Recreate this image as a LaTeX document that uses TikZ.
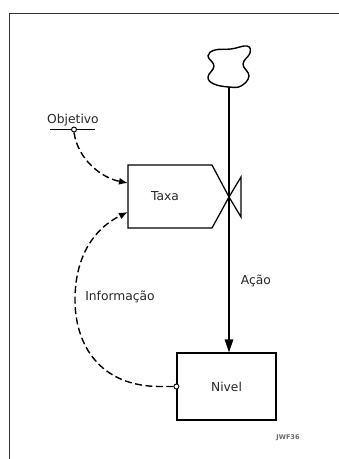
\documentclass[tikz,border=0pt]{standalone}
\usepackage{fontspec}
\newfontfamily\lblfont{DejaVu Sans}
\usetikzlibrary{arrows.meta}
\begin{document}
\begin{tikzpicture}[x=1pt,y=-1pt,
  lbl/.style={font=\lblfont\fontsize{12.3}{14}\selectfont, text=black!85, inner sep=0pt},
  solidline/.style={line width=1.25pt, black},
  dashline/.style={line width=1.4pt, black, dash pattern=on 7pt off 3.5pt},
  dashtip/.style={-{Latex[length=9pt,width=7pt]}},
  tap/.style={circle, draw, line width=0.9pt, fill=white, inner sep=0pt, minimum size=5pt}]
\useasboundingbox (0,0) rectangle (339,459);
% frame
\draw[line width=1pt, black!80] (339,13) -- (9,13) -- (9,459);
% cloud (source)
\draw[solidline, line width=1.4pt] plot[smooth cycle, tension=0.7] coordinates
  {(215,50) (231,49) (247,46) (250,53) (243,64) (249,76) (241,86) (229,87) (214,84) (208,77) (214,66) (208,56)};
\coordinate (src) at (229,87);
% Taxa (rate) shape with valve
\draw[solidline] (128,165) -- (212,165) -- (229,197) -- (212,228) -- (128,228) -- cycle;
\draw[solidline] (229,197) -- (241,177) -- (241,217) -- cycle;
\node[lbl] (taxa) at (165,196) {Taxa};
\coordinate (tin1) at (128,183);
\coordinate (tin2) at (128,212);
% Nivel (level)
\node[draw, solidline, minimum width=99pt, minimum height=67pt, inner sep=0pt] (nivel) at (226.5,386.5) {};
\node[lbl] at (nivel.center) {Nivel};
% flow line
\draw[solidline, -{Triangle[length=13pt,width=8.5pt]}] (src) -- (nivel.north -| src);
\node[lbl] (acao) at (256,281) {Ação};
% Objetivo
\node[lbl] (obj) at (73,120) {Objetivo};
\draw[line width=1pt] (50,129) -- (95,129);
\node[tap] (objtap) at (74,129.5) {};
\draw[dashline, dashtip] (objtap.south) .. controls (78,160) and (102,178) .. (tin1);
% Informacao
\node[tap] (niveltap) at (nivel.west) {};
\draw[dashline, dashtip] (niveltap.west) -- (160,386.5) .. controls (100,386.5) and (75,345) .. (75,300) .. controls (75,255) and (95,228) .. (tin2);
\node[lbl] (info) at (120,297) {Informação};
% label
\node[font=\lblfont\bfseries\fontsize{6.5}{8}\selectfont, text=black!60, inner sep=0pt] (jwf) at (288,438) {JWF36};
\end{tikzpicture}
\end{document}
